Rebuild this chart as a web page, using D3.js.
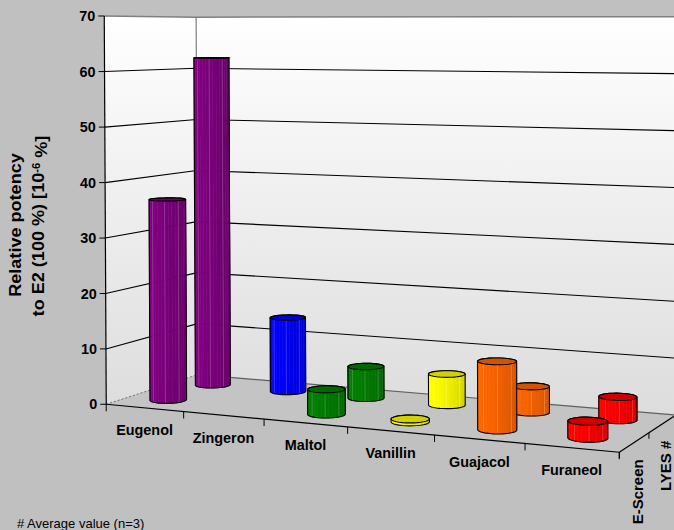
<!DOCTYPE html>
<html>
<head>
<meta charset="utf-8">
<script src="https://cdn.jsdelivr.net/npm/d3@7"></script>
<style>
  body { margin: 0; background: #c0c0c0; }
  svg { display: block; font-family: Arial, "Liberation Sans", sans-serif; }
</style>
</head>
<body>
<div id="chart"></div>
<script>
// data
var categories = ['Eugenol', 'Zingeron', 'Maltol', 'Vanillin', 'Guajacol', 'Furaneol'];
var seriesNames = ['E-Screen', 'LYES #'];
var eScreen = [36.6, null, 4.4, 0.5, 11.6, 2.8];
var lyes = [62.2, 13.8, 5.8, 5.6, 4.6, 4.0];
var barColors = ['#800080', '#0000ff', '#008000', '#ffff00', '#ff6600', '#ff0000'];
var yTicks = [0, 10, 20, 30, 40, 50, 60, 70];

var width = 674, height = 530;

var svg = d3.select('#chart').append('svg')
  .attr('width', width)
  .attr('height', height);

// world scales: x = categories, z = series depth (front -> back), y = value
var xBand = d3.scaleBand().domain(categories).range([0, 6]);
var zBand = d3.scaleBand().domain(seriesNames).range([0, 2]);
var yScale = d3.scaleLinear().domain([0, 70]).range([0, 1]);

// fit a perspective projection to the frame corners of the original (DLT)
var frame = [
  [0, 0, 0, 107, 403], [0, 0, 2, 197, 376], [0, 1, 0, 103.5, 16.5], [0, 1, 2, 197, 16],
  [6, 0, 0, 620, 452], [6, 0, 2, 675, 414], [6, 1, 2, 675, 16.5],
  [0, 60 / 70, 0, 104, 72.3], [0, 60 / 70, 2, 197, 68.3], [6, 60 / 70, 2, 675, 74],
  [3, 0, 0, 347, 426.5], [6, 0, 1, 650, 434]
];

function fitProjection(pts) {
  var rows = [], rhs = [];
  pts.forEach(function(p) {
    var X = p[0], Y = p[1], Z = p[2], u = p[3] / 100, v = p[4] / 100;
    rows.push([X, Y, Z, 1, 0, 0, 0, 0, -u * X, -u * Y, -u * Z]); rhs.push(u);
    rows.push([0, 0, 0, 0, X, Y, Z, 1, -v * X, -v * Y, -v * Z]); rhs.push(v);
  });
  var n = 11, M = [], b = [];
  for (var i = 0; i < n; i++) {
    M.push([]); b.push(0);
    for (var j = 0; j < n; j++) {
      var s = 0;
      rows.forEach(function(r) { s += r[i] * r[j]; });
      M[i].push(s);
    }
    rows.forEach(function(r, k) { b[i] += r[i] * rhs[k]; });
  }
  for (var c = 0; c < n; c++) {
    var piv = c;
    for (var r = c + 1; r < n; r++) if (Math.abs(M[r][c]) > Math.abs(M[piv][c])) piv = r;
    var t = M[c]; M[c] = M[piv]; M[piv] = t;
    var tb = b[c]; b[c] = b[piv]; b[piv] = tb;
    for (var r2 = c + 1; r2 < n; r2++) {
      var f = M[r2][c] / M[c][c];
      for (var k = c; k < n; k++) M[r2][k] -= f * M[c][k];
      b[r2] -= f * b[c];
    }
  }
  var x = new Array(n);
  for (var r3 = n - 1; r3 >= 0; r3--) {
    var s2 = b[r3];
    for (var k2 = r3 + 1; k2 < n; k2++) s2 -= M[r3][k2] * x[k2];
    x[r3] = s2 / M[r3][r3];
  }
  return x;
}

var P = fitProjection(frame);

function project(X, Y, Z) {
  var w = P[8] * X + P[9] * Y + P[10] * Z + 1;
  return [
    100 * (P[0] * X + P[1] * Y + P[2] * Z + P[3]) / w,
    100 * (P[4] * X + P[5] * Y + P[6] * Z + P[7]) / w
  ];
}

function poly(pts) {
  return 'M' + pts.map(function(p) { return project(p[0], p[1], p[2]).join(','); }).join('L') + 'Z';
}
function line(pts) {
  return 'M' + pts.map(function(p) { return project(p[0], p[1], p[2]).join(','); }).join('L');
}

var defs = svg.append('defs');
var grad = defs.append('linearGradient')
  .attr('id', 'wallGrad')
  .attr('gradientUnits', 'userSpaceOnUse')
  .attr('x1', 0).attr('y1', 16).attr('x2', 0).attr('y2', 420);
grad.append('stop').attr('offset', 0).attr('stop-color', '#ffffff');
grad.append('stop').attr('offset', 1).attr('stop-color', '#dcdcdc');

var X0 = 0, X1 = 6, Z0 = 0, Z1 = 2, Ytop = yScale(70);

// walls and floor
svg.append('path').attr('d', poly([[X0, 0, Z0], [X0, 0, Z1], [X0, Ytop, Z1], [X0, Ytop, Z0]]))
  .attr('fill', 'url(#wallGrad)');
svg.append('path').attr('d', poly([[X0, 0, Z1], [X1, 0, Z1], [X1, Ytop, Z1], [X0, Ytop, Z1]]))
  .attr('fill', 'url(#wallGrad)');
svg.append('path').attr('d', poly([[X0, 0, Z0], [X1, 0, Z0], [X1, 0, Z1], [X0, 0, Z1]]))
  .attr('fill', '#c4c4c4');

// gridlines
svg.append('g').selectAll('path')
  .data(yTicks.filter(function(t) { return t > 0 && t < 70; }))
  .enter().append('path')
  .attr('d', function(t) { return line([[X0, yScale(t), Z0], [X0, yScale(t), Z1], [X1, yScale(t), Z1]]); })
  .attr('fill', 'none')
  .attr('stroke', '#000')
  .attr('stroke-width', 1.1);

// wall edges
svg.append('path').attr('d', line([[X0, Ytop, Z0], [X0, Ytop, Z1], [X1, Ytop, Z1]]))
  .attr('fill', 'none').attr('stroke', '#808080').attr('stroke-width', 1.5);
svg.append('path').attr('d', line([[X0, 0, Z1], [X0, Ytop, Z1]]))
  .attr('fill', 'none').attr('stroke', '#808080').attr('stroke-width', 1.2);
svg.append('path').attr('d', line([[X0, 0, Z1], [X1, 0, Z1]]))
  .attr('fill', 'none').attr('stroke', '#606060').attr('stroke-width', 1.2);
svg.append('path').attr('d', line([[X0, 0, Z0], [X0, 0, Z1]]))
  .attr('fill', 'none').attr('stroke', '#707070').attr('stroke-width', 1).attr('stroke-dasharray', '2,2');

// bars as cylinders
var bars = [];
seriesNames.slice().reverse().forEach(function(s) {
  var vals = s === 'E-Screen' ? eScreen : lyes;
  categories.forEach(function(c, i) {
    if (vals[i] != null) bars.push({ cat: c, series: s, value: vals[i], color: barColors[i] });
  });
});

var N = 32;
var radius = 0.205;
var lightAngle = Math.atan2(-0.8, -0.7);

var barG = svg.append('g');
bars.forEach(function(d) {
  var cx = xBand(d.cat) + xBand.bandwidth() / 2;
  var cz = zBand(d.series) + zBand.bandwidth() / 2;
  var rx = radius * xBand.bandwidth(), rz = radius * zBand.bandwidth();
  var yt = yScale(d.value);
  var bot = [], top = [];
  for (var k = 0; k <= N; k++) {
    var a = 2 * Math.PI * k / N - Math.PI / 2;
    bot.push(project(cx + rx * Math.cos(a), 0, cz + rz * Math.sin(a)));
    top.push(project(cx + rx * Math.cos(a), yt, cz + rz * Math.sin(a)));
  }
  function area(k) {
    return d3.polygonArea([bot[k], bot[k + 1], top[k + 1], top[k]]);
  }
  var refSign = Math.sign(area(0) || area(N - 1));
  var g = barG.append('g');
  var base = d3.color(d.color);
  for (var k2 = 0; k2 < N; k2++) {
    if (Math.sign(area(k2)) !== refSign) continue;
    var am = 2 * Math.PI * (k2 + 0.5) / N - Math.PI / 2;
    var lit = Math.cos(am - lightAngle);
    var col = d3.interpolateRgb(base, '#000')(0.1 - 0.1 * lit);
    g.append('path')
      .attr('d', 'M' + [bot[k2], bot[k2 + 1], top[k2 + 1], top[k2]].join('L') + 'Z')
      .attr('fill', col)
      .attr('stroke', col)
      .attr('stroke-width', 0.6);
    if (k2 % 4 === 2) {
      g.append('path')
        .attr('d', 'M' + bot[k2] + 'L' + top[k2])
        .attr('stroke', d3.interpolateRgb(base, '#fff')(0.35))
        .attr('stroke-opacity', 0.7)
        .attr('stroke-width', 0.7);
    }
  }
  var hull = d3.polygonHull(bot.concat(top));
  g.append('path')
    .attr('d', 'M' + hull.join('L') + 'Z')
    .attr('fill', 'none')
    .attr('stroke', '#000')
    .attr('stroke-width', 1.1);
  g.append('path')
    .attr('d', 'M' + top.join('L') + 'Z')
    .attr('fill', d3.interpolateRgb(base, '#000')(0.18))
    .attr('stroke', '#000')
    .attr('stroke-width', 1.1);
});

// value axis
svg.append('path').attr('d', line([[X0, 0, Z0], [X0, Ytop, Z0]]))
  .attr('fill', 'none').attr('stroke', '#000').attr('stroke-width', 1.2);
var yAxis = svg.append('g').selectAll('g').data(yTicks).enter().append('g')
  .attr('transform', function(t) {
    var p = project(X0, yScale(t), Z0);
    return 'translate(' + p[0] + ',' + p[1] + ')';
  });
yAxis.append('line').attr('x1', -6).attr('x2', 0).attr('stroke', '#000');
yAxis.append('text')
  .attr('x', -9)
  .attr('dy', '0.36em')
  .attr('text-anchor', 'end')
  .style('font-size', '14.4px')
  .style('font-weight', 'bold')
  .text(function(t) { return t; });

// category axis
svg.append('path').attr('d', line([[X0, 0, Z0], [X1, 0, Z0]]))
  .attr('fill', 'none').attr('stroke', '#000').attr('stroke-width', 1.2);
var catEdges = categories.map(function(c) { return xBand(c); }).concat([X1]);
svg.append('g').selectAll('line').data(catEdges).enter().append('line')
  .attr('x1', function(x) { return project(x, 0, Z0)[0]; })
  .attr('x2', function(x) { return project(x, 0, Z0)[0]; })
  .attr('y1', function(x) { return project(x, 0, Z0)[1]; })
  .attr('y2', function(x) { return project(x, 0, Z0)[1] + 7; })
  .attr('stroke', '#000');
svg.append('g').selectAll('text').data(categories).enter().append('text')
  .attr('x', function(c) { return project(xBand(c) + xBand.bandwidth() / 2, 0, Z0)[0]; })
  .attr('y', function(c) { return project(xBand(c) + xBand.bandwidth() / 2, 0, Z0)[1] + 27.5; })
  .attr('text-anchor', 'middle')
  .style('font-size', '14.4px')
  .style('font-weight', 'bold')
  .text(function(c) { return c; });

// series (depth) axis
svg.append('path').attr('d', line([[X1, 0, Z0], [X1, 0, Z1]]))
  .attr('fill', 'none').attr('stroke', '#000').attr('stroke-width', 1.2);
var serEdges = seriesNames.map(function(s) { return zBand(s); }).concat([Z1]);
svg.append('g').selectAll('line').data(serEdges).enter().append('line')
  .attr('x1', function(z) { return project(X1, 0, z)[0]; })
  .attr('x2', function(z) { return project(X1, 0, z)[0]; })
  .attr('y1', function(z) { return project(X1, 0, z)[1]; })
  .attr('y2', function(z) { return project(X1, 0, z)[1] + 6; })
  .attr('stroke', '#000');
svg.append('g').selectAll('text').data(seriesNames).enter().append('text')
  .attr('transform', function(s) {
    var p = project(X1, 0, zBand(s) + zBand.bandwidth() / 2);
    return 'translate(' + (p[0] + 8.5) + ',' + (p[1] + 17) + ') rotate(-90)';
  })
  .attr('text-anchor', 'end')
  .style('font-size', '15px')
  .style('font-weight', 'bold')
  .text(function(s) { return s; });

// value axis title
var title = svg.append('g');
title.append('text')
  .attr('transform', 'translate(20.5,225) rotate(-90) scale(1.13,1)')
  .attr('text-anchor', 'middle')
  .style('font-size', '16px')
  .style('font-weight', 'bold')
  .text('Relative potency');
var t2 = title.append('text')
  .attr('transform', 'translate(44,226) rotate(-90) scale(1.13,1)')
  .attr('text-anchor', 'middle')
  .style('font-size', '16px')
  .style('font-weight', 'bold');
t2.append('tspan').text('to E2 (100 %) [10');
t2.append('tspan').attr('dy', '-0.45em').style('font-size', '10px').text('-6');
t2.append('tspan').attr('dy', '0.45em').text(' %]');

// footnote
svg.append('text')
  .attr('x', 17)
  .attr('y', 528)
  .style('font-size', '13px')
  .text('# Average value (n=3)');
</script>
</body>
</html>
